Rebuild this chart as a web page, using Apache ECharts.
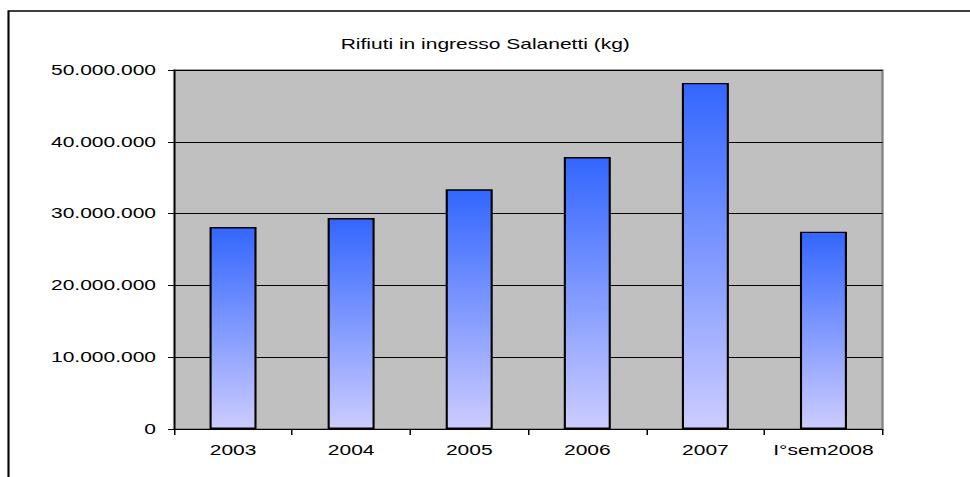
<!DOCTYPE html>
<html>
<head>
<meta charset="utf-8">
<script src="https://cdn.jsdelivr.net/npm/echarts@6/dist/echarts.min.js"></script>
<style>
html,body{margin:0;padding:0;background:#fff;overflow:hidden;}
#wrap{width:970px;height:477px;overflow:hidden;position:relative;}
#chart{width:646.667px;height:477px;transform:scaleX(1.5);transform-origin:0 0;position:absolute;left:0;top:0;}
</style>
</head>
<body>
<div id="wrap"><div id="chart"></div></div>
<script>
const categories = ['2003', '2004', '2005', '2006', '2007', 'I°sem2008'];
const values = [28130000, 29390000, 33380000, 37880000, 48200000, 27480000];
const titleText = 'Rifiuti in ingresso Salanetti (kg)';

function fmt(v) {
  return String(Math.round(v)).replace(/\B(?=(\d{3})+(?!\d))/g, '.');
}

const SX = 1.5; // horizontal stretch of the reference picture
const chart = echarts.init(document.getElementById('chart'), null, {renderer: 'svg'});
const font = 'Liberation Sans, Arial, sans-serif';
chart.setOption({
  animation: false,
  backgroundColor: '#ffffff',
  title: {
    text: titleText,
    left: 'center',
    top: 32,
    textStyle: {fontFamily: font, fontSize: 14, fontWeight: 'normal', color: '#000'}
  },
  graphic: [{
    type: 'rect',
    shape: {x: 8.5 / SX, y: 11, width: 1000, height: 500},
    style: {fill: 'none', stroke: '#000', lineWidth: 1.4},
    silent: true
  }],
  grid: {
    left: 174 / SX, top: 70, right: 88 / SX, bottom: 48,
    show: true, backgroundColor: '#c0c0c0', borderColor: '#808080', borderWidth: 1.5
  },
  xAxis: {
    type: 'category',
    data: categories,
    axisLine: {lineStyle: {color: '#000', width: 1}},
    axisTick: {show: true, interval: 0, length: 6, inside: false, alignWithLabel: false, lineStyle: {color: '#000'}},
    axisLabel: {interval: 0, hideOverlap: false, fontFamily: font, fontSize: 14, color: '#000', margin: 14}
  },
  yAxis: {
    type: 'value',
    min: 0, max: 50000000, interval: 10000000,
    axisLine: {show: true, lineStyle: {color: '#000', width: 1}},
    axisTick: {show: true, length: 4, lineStyle: {color: '#000'}},
    axisLabel: {fontFamily: font, fontSize: 14, color: '#000', margin: 12, formatter: fmt},
    splitLine: {show: true, lineStyle: {color: '#000', width: 1}}
  },
  series: [{
    type: 'bar',
    data: values,
    barWidth: 47 / SX,
    itemStyle: {
      color: new echarts.graphic.LinearGradient(0, 0, 0, 1, [
        {offset: 0, color: '#3366ff'},
        {offset: 1, color: '#ccccff'}
      ]),
      borderColor: '#000',
      borderWidth: 1.4
    }
  }]
});
</script>
</body>
</html>
